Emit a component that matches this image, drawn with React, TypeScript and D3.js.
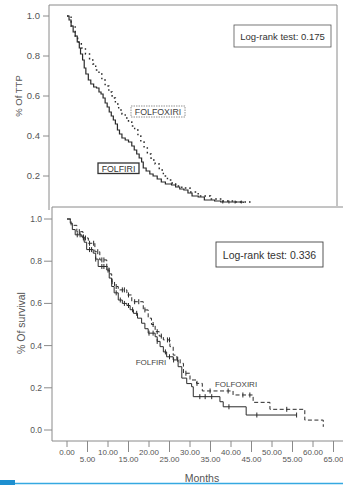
import React from "react";
import * as d3 from "d3";

// ---- Data (month, survival proportion) ----
const ttpFolfiri: [number, number][] = [
  [0, 1], [0.5, 0.98], [1, 0.95], [1.5, 0.92], [2, 0.9], [2.5, 0.87], [3, 0.84], [3.3, 0.81], [3.8, 0.78],
  [4.2, 0.74], [4.6, 0.71], [5.2, 0.68], [5.8, 0.66], [6.5, 0.645], [7.2, 0.64], [7.8, 0.62], [8.3, 0.61],
  [8.8, 0.59], [9.3, 0.565], [9.8, 0.545], [10.3, 0.52], [10.8, 0.5], [11.3, 0.48], [11.8, 0.46], [12.3, 0.43],
  [12.8, 0.41], [13.4, 0.39], [14.2, 0.38], [15, 0.37], [15.8, 0.35], [16.4, 0.33], [17, 0.31], [17.6, 0.29],
  [18.2, 0.27], [18.6, 0.24], [19.3, 0.225], [20.2, 0.21], [21, 0.2], [22, 0.185], [23, 0.17], [24, 0.16],
  [25.5, 0.155], [26.5, 0.145], [27.5, 0.135], [28.5, 0.13], [29.5, 0.115], [30.5, 0.1], [32, 0.095],
  [33.5, 0.08], [36, 0.075], [37.5, 0.07], [43, 0.065],
];
const ttpFolfoxiri: [number, number][] = [
  [0, 1], [1, 0.95], [2, 0.9], [2.6, 0.87], [3.5, 0.84], [4.5, 0.81], [5.5, 0.78], [6.3, 0.76], [7, 0.73],
  [7.8, 0.71], [8.5, 0.68], [9.3, 0.65], [10.2, 0.62], [11, 0.59], [11.8, 0.56], [12.6, 0.53], [13.4, 0.51],
  [14.2, 0.49], [15, 0.47], [15.8, 0.45], [16.5, 0.43], [17.3, 0.4], [18, 0.37], [18.8, 0.34], [19.6, 0.31],
  [20.5, 0.28], [21.5, 0.26], [22.5, 0.23], [23.5, 0.2], [24.5, 0.18], [25.5, 0.165], [26.5, 0.15], [28, 0.14],
  [30, 0.12], [32, 0.1], [35, 0.085], [38, 0.075], [41, 0.07], [44.6, 0.065],
];
const ttpCensorFolfiri = [38, 39.5, 41, 42.5];

const osFolfiri: [number, number][] = [
  [0, 1], [0.8, 0.98], [1.3, 0.95], [2, 0.925], [3.6, 0.915], [4.2, 0.89], [4.8, 0.855], [6.4, 0.838], [7, 0.81],
  [7.6, 0.775], [9.7, 0.758], [10.3, 0.72], [10.9, 0.68], [11.5, 0.65], [12.5, 0.616], [13.5, 0.6], [14.6, 0.59],
  [15.4, 0.57], [16.2, 0.553], [17.2, 0.53], [18.2, 0.506], [19, 0.48], [19.8, 0.459], [21.5, 0.442], [22, 0.42],
  [22.7, 0.395], [23.5, 0.37], [24.3, 0.347], [25.9, 0.332], [27.1, 0.3], [28, 0.246], [29.2, 0.22],
  [30.4, 0.205], [30.8, 0.158], [37.3, 0.134], [38.1, 0.11], [43.7, 0.071], [56, 0.071],
];
const osFolfoxiri: [number, number][] = [
  [0, 1], [1, 0.97], [2.4, 0.94], [3.9, 0.91], [5.2, 0.885], [6.8, 0.845], [8, 0.806], [9.7, 0.774],
  [10.3, 0.74], [10.9, 0.703], [11.6, 0.68], [12.5, 0.664], [14.6, 0.64], [15.8, 0.608], [18.6, 0.569],
  [19.8, 0.53], [20.6, 0.5], [21.5, 0.466], [22.5, 0.445], [23.5, 0.427], [25.1, 0.395], [25.9, 0.355],
  [26.8, 0.335], [27.6, 0.316], [28.4, 0.269], [30, 0.237], [31.6, 0.221], [33, 0.185], [40.5, 0.166],
  [45.4, 0.131], [49.5, 0.098], [58, 0.047], [62.5, 0.015],
];
const osCensorFolfiri = [2.5, 3.2, 4, 5.5, 6, 7, 8.5, 9, 10, 12, 13, 14, 15, 16, 17, 20, 21, 22, 24, 25, 26, 32.4, 33.7, 35.3, 39.5, 46.3, 56];
const osCensorFolfoxiri = [3, 4, 4.5, 5.5, 6.5, 7.5, 8.5, 9, 11, 12, 13.5, 14, 15, 16.5, 17.5, 19, 21, 22, 23, 24.5, 25, 27, 29, 31.7, 34.9, 39.3, 42.9, 44.6, 53.6];

const yTicksTop = [0.2, 0.4, 0.6, 0.8, 1.0];
const yTicksBottom = [0, 0.2, 0.4, 0.6, 0.8, 1.0];
const xTicks = d3.range(0, 66, 5);

const FONT = "'Liberation Sans', Arial, sans-serif";

function valueAt(data: [number, number][], t: number) {
  let v = data[0][1];
  for (const [m, s] of data) if (m <= t) v = s;
  return v;
}

export default function App() {
  const x = d3.scaleLinear().domain([0, 65]).range([67, 333.5]);
  const yTop = d3.scaleLinear().domain([0, 1]).range([216, 16]);
  const yBot = d3.scaleLinear().domain([0, 1]).range([430, 219]);

  const lineTop = d3.line<[number, number]>().x(d => x(d[0])).y(d => yTop(d[1])).curve(d3.curveStepAfter);
  const lineBot = d3.line<[number, number]>().x(d => x(d[0])).y(d => yBot(d[1])).curve(d3.curveStepAfter);

  const frame = "#8a8a8a";
  const ink = "#2a2a2a";
  const tickText = "#555";

  return (
    <svg width={343} height={485} style={{ position: "absolute", left: 0, top: 0, background: "#fff" }} fontFamily={FONT}>
      <defs>
        <clipPath id="clipTop">
          <rect x={49} y={0} width={294} height={206} />
        </clipPath>
      </defs>

      {/* ---------- Top panel (TTP) ---------- */}
      <g>
        <line x1={49} x2={337} y1={5} y2={5} stroke={frame} />
        <line x1={337} x2={337} y1={5} y2={206} stroke={frame} />
        <line x1={49} x2={49} y1={5} y2={210} stroke={frame} />
        {yTicksTop.map(t => (
          <g key={t}>
            <line x1={43} x2={49} y1={yTop(t)} y2={yTop(t)} stroke={frame} />
            <text x={40} y={yTop(t) + 3.3} fontSize={9.5} textAnchor="end" fill={tickText}>{t.toFixed(1)}</text>
          </g>
        ))}
        <text transform="translate(22,96) rotate(-90)" fontSize={9.5} textAnchor="middle" fill={tickText}>% Of TTP</text>
        <g clipPath="url(#clipTop)">
          <path d={lineTop(ttpFolfoxiri) || ""} fill="none" stroke={ink} strokeWidth={1.4} strokeDasharray="1.6,3" />
          <path d={lineTop(ttpFolfiri) || ""} fill="none" stroke={ink} strokeWidth={1.2} />
          {ttpCensorFolfiri.map(t => (
            <line key={t} x1={x(t)} x2={x(t)} y1={yTop(valueAt(ttpFolfiri, t)) - 1.5} y2={yTop(valueAt(ttpFolfiri, t)) + 1.5} stroke={ink} />
          ))}
        </g>
        <rect x={234} y={25} width={97} height={22} fill="#fff" stroke="#555" strokeWidth={0.8} />
        <text x={282.5} y={39.5} fontSize={9.5} textAnchor="middle" fill="#333">Log-rank test: 0.175</text>
        <rect x={131} y={106} width={54} height={11} fill="#fff" stroke="#777" strokeWidth={0.8} strokeDasharray="1.5,1" />
        <text x={158} y={114.8} fontSize={8.8} textAnchor="middle" fill="#444">FOLFOXIRI</text>
        <rect x={98} y={163} width={41} height={10.5} fill="#fff" stroke="#333" strokeWidth={1.3} />
        <text x={118.5} y={171.6} fontSize={8.8} textAnchor="middle" fill="#333">FOLFIRI</text>
      </g>

      {/* ---------- Bottom panel (OS) ---------- */}
      <g>
        <line x1={52} x2={343} y1={207} y2={207} stroke={frame} />
        <line x1={52} x2={52} y1={207} y2={441} stroke={frame} />
        <line x1={52} x2={343} y1={441} y2={441} stroke={frame} />
        {yTicksBottom.map(t => (
          <g key={t}>
            <line x1={44} x2={52} y1={yBot(t)} y2={yBot(t)} stroke={frame} />
            <text x={42} y={yBot(t) + 3} fontSize={8.5} textAnchor="end" fill={tickText}>{t.toFixed(1)}</text>
          </g>
        ))}
        {xTicks.map((t, i) => {
          const major = i % 2 === 0;
          return (
            <g key={t}>
              <line x1={x(t)} x2={x(t)} y1={441} y2={major ? 447 : 452} stroke={frame} />
              <text x={x(t)} y={major ? 455 : 462} fontSize={8} textAnchor="middle" fill={tickText}>{t.toFixed(2)}</text>
            </g>
          );
        })}
        <text x={202} y={482} fontSize={10.5} textAnchor="middle" fill={tickText}>Months</text>
        <text transform="translate(25,323) rotate(-90)" fontSize={10.5} textAnchor="middle" fill={tickText}>% Of survival</text>

        <path d={lineBot(osFolfoxiri) || ""} fill="none" stroke={ink} strokeWidth={1} strokeDasharray="4,2.5" />
        <path d={lineBot(osFolfiri) || ""} fill="none" stroke={ink} strokeWidth={1} />
        {osCensorFolfoxiri.map(t => (
          <line key={"a" + t} x1={x(t)} x2={x(t)} y1={yBot(valueAt(osFolfoxiri, t)) - 2.5} y2={yBot(valueAt(osFolfoxiri, t)) + 2.5} stroke={ink} strokeWidth={1} />
        ))}
        {osCensorFolfiri.map(t => (
          <line key={"b" + t} x1={x(t)} x2={x(t)} y1={yBot(valueAt(osFolfiri, t)) - 2.5} y2={yBot(valueAt(osFolfiri, t)) + 2.5} stroke={ink} strokeWidth={1} />
        ))}

        <rect x={216} y={242} width={107} height={25} fill="#fff" stroke="#444" strokeWidth={0.9} />
        <text x={269.5} y={258.5} fontSize={10.5} textAnchor="middle" fill="#333">Log-rank test: 0.336</text>
        <text x={151} y={365} fontSize={8} textAnchor="middle" fill="#444">FOLFIRI</text>
        <text x={236} y={387} fontSize={8} textAnchor="middle" fill="#444">FOLFOXIRI</text>
      </g>

      {/* bottom decoration */}
      <line x1={0} x2={343} y1={483.5} y2={483.5} stroke="#35a9e1" strokeWidth={1.5} />
      <rect x={0} y={480} width={15} height={5} fill="#1e8fd0" />
    </svg>
  );
}
